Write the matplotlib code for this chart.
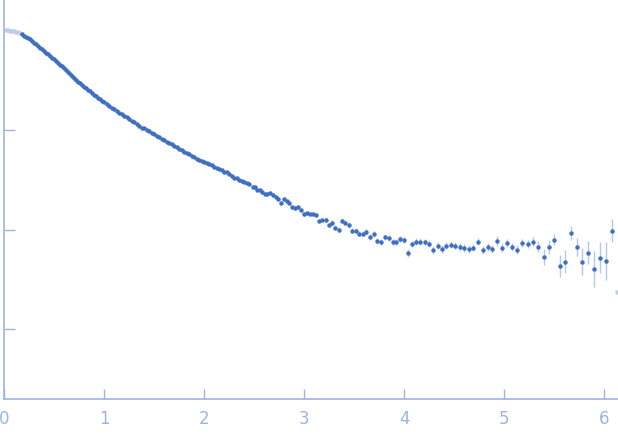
import numpy as np
import matplotlib
matplotlib.use("Agg")
import matplotlib.pyplot as plt

# ── data (q, intensity, error in decades) ──
# excluded points at both ends, drawn pale
q_excl = [0.02, 0.04, 0.06, 0.08, 0.10, 0.12, 0.14, 0.16, 6.133]
I_excl = [1.000, 0.995, 0.989, 0.979, 0.971, 0.959, 0.948, 0.938, 0.00238]

# low q, dense
q_low = [0.18, 0.20, 0.22, 0.24, 0.26, 0.28, 0.30, 0.32, 0.34, 0.36,
         0.38, 0.40, 0.42, 0.44, 0.46, 0.48, 0.50, 0.52, 0.54, 0.56,
         0.58, 0.60, 0.62, 0.64, 0.66, 0.68, 0.70, 0.72, 0.74, 0.76,
         0.78, 0.80, 0.82, 0.84, 0.86, 0.88, 0.90, 0.92, 0.94, 0.96,
         0.98, 1.00]
I_low = [0.906, 0.879, 0.853, 0.828, 0.804, 0.774, 0.746, 0.719, 0.694, 0.668,
         0.643, 0.618, 0.594, 0.571, 0.550, 0.528, 0.508, 0.489, 0.469, 0.450,
         0.432, 0.414, 0.397, 0.380, 0.363, 0.347, 0.331, 0.316, 0.303, 0.292,
         0.281, 0.271, 0.261, 0.251, 0.242, 0.233, 0.224, 0.216, 0.209, 0.202,
         0.195, 0.188]

# mid q
q_mid = [1.025, 1.05, 1.075, 1.10, 1.125, 1.15, 1.175, 1.20, 1.225, 1.25,
         1.275, 1.30, 1.325, 1.35, 1.375, 1.40, 1.425, 1.45, 1.475, 1.50,
         1.525, 1.55, 1.575, 1.60, 1.625, 1.65, 1.675, 1.70, 1.725, 1.75,
         1.775, 1.80, 1.825, 1.85, 1.875, 1.90, 1.925, 1.95, 1.975, 2.00,
         2.025, 2.05, 2.075, 2.10, 2.125, 2.15, 2.175, 2.20, 2.225, 2.25,
         2.275, 2.30, 2.325, 2.35, 2.375, 2.40, 2.425, 2.45]
I_mid = [0.180, 0.173, 0.167, 0.160, 0.154, 0.149, 0.143, 0.138, 0.133, 0.128,
         0.123, 0.119, 0.114, 0.110, 0.104, 0.103, 0.0995, 0.0975, 0.0929, 0.0899,
         0.0869, 0.0841, 0.0815, 0.0789, 0.0762, 0.0738, 0.0725, 0.0689, 0.0665, 0.0644,
         0.0624, 0.0604, 0.0585, 0.0566, 0.0548, 0.0531, 0.0515, 0.0495, 0.0488, 0.0475,
         0.0463, 0.0451, 0.0439, 0.0427, 0.0414, 0.0403, 0.0392, 0.0380, 0.0373, 0.0357,
         0.0346, 0.0330, 0.0325, 0.0315, 0.0306, 0.0298, 0.0290, 0.0283]

# high q, sparser
q_high = [2.487, 2.513, 2.533, 2.560, 2.583, 2.610, 2.633, 2.660, 2.690, 2.720,
          2.743, 2.770, 2.803, 2.830, 2.853, 2.883, 2.913, 2.943, 2.970, 3.003,
          3.033, 3.063, 3.093, 3.123, 3.153, 3.183, 3.223, 3.253, 3.283, 3.313,
          3.353, 3.383, 3.413, 3.453, 3.483, 3.523, 3.553, 3.593, 3.623, 3.663,
          3.703, 3.733, 3.773, 3.813, 3.853, 3.893, 3.923]
I_high = [0.0267, 0.0266, 0.0251, 0.0251, 0.0238, 0.0229, 0.0229, 0.0234, 0.0224, 0.0214,
          0.0203, 0.0185, 0.0203, 0.0191, 0.0185, 0.0169, 0.0165, 0.0169, 0.0157, 0.0144,
          0.0147, 0.0144, 0.0144, 0.0140, 0.0122, 0.0125, 0.0125, 0.0111, 0.0117, 0.0104,
          0.00993, 0.0122, 0.0117, 0.0111, 0.00971, 0.00971, 0.00906, 0.00906, 0.00949, 0.00845,
          0.00906, 0.00771, 0.00753, 0.00845, 0.00826, 0.00753, 0.00753]

# tail
q_tail = [3.960, 4.003, 4.043, 4.083, 4.123, 4.163, 4.213, 4.253, 4.293, 4.343,
          4.383, 4.423, 4.473, 4.513, 4.563, 4.603, 4.653, 4.693, 4.743, 4.793,
          4.843, 4.883, 4.933, 4.983, 5.033, 5.083, 5.133, 5.183, 5.243, 5.293,
          5.343, 5.403, 5.453, 5.503, 5.563, 5.613, 5.673, 5.733, 5.783, 5.843,
          5.903, 5.963, 6.023, 6.083]
I_tail = [0.00807, 0.00788, 0.00585, 0.00724, 0.00753, 0.00753, 0.00753, 0.00719, 0.00627, 0.00687,
          0.00641, 0.00687, 0.00703, 0.00687, 0.00671, 0.00656, 0.00641, 0.00656, 0.00753, 0.00627,
          0.00671, 0.00641, 0.00771, 0.00656, 0.00736, 0.00671, 0.00627, 0.00736, 0.00719, 0.00753,
          0.00671, 0.00533, 0.00671, 0.00788, 0.00434, 0.00475, 0.00927, 0.00671, 0.00475, 0.00585,
          0.00405, 0.00521, 0.00486, 0.00971]

# half error bar length in decades
err_low = [0.004] * len(q_low)
err_mid = [0.006] * len(q_mid)
err_high = [0.015, 0.015, 0.015, 0.016, 0.016, 0.017, 0.017, 0.017, 0.018, 0.018,
            0.018, 0.019, 0.019, 0.019, 0.020, 0.020, 0.020, 0.021, 0.021, 0.021,
            0.022, 0.022, 0.022, 0.023, 0.023, 0.023, 0.024, 0.024, 0.024, 0.025,
            0.025, 0.025, 0.026, 0.026, 0.026, 0.027, 0.027, 0.027, 0.028, 0.028,
            0.028, 0.029, 0.029, 0.030, 0.030, 0.030, 0.030]
err_tail = [0.030, 0.030, 0.040, 0.030, 0.035, 0.035, 0.030, 0.035, 0.040, 0.035,
            0.040, 0.035, 0.035, 0.035, 0.040, 0.040, 0.040, 0.035, 0.035, 0.040,
            0.040, 0.040, 0.050, 0.045, 0.040, 0.040, 0.045, 0.040, 0.040, 0.045,
            0.055, 0.080, 0.070, 0.055, 0.110, 0.115, 0.070, 0.090, 0.135, 0.115,
            0.180, 0.155, 0.190, 0.115]

DOT = "#3f6fc1"
BAR = "#b3c8ea"
PALE = "#bccdea"
AXIS = "#9fb4e2"

q = np.array(q_low + q_mid + q_high + q_tail)
I = np.array(I_low + I_mid + I_high + I_tail)
e = np.array(err_low + err_mid + err_high + err_tail)
lo = I * (1 - 10 ** -e)
hi = I * (10 ** e - 1)

fig = plt.figure(figsize=(6.18, 4.37), dpi=100)
ax = fig.add_axes([4 / 618, 38 / 437, 614 / 618, 399 / 437])

ax.errorbar(q, I, yerr=[lo, hi], fmt="none", ecolor=BAR, elinewidth=1.0, zorder=1)
ax.plot(q, I, "o", ms=3.2, color=DOT, mec="none", zorder=3)
ax.plot(q_excl, I_excl, "o", ms=3.2, color=PALE, mec="none", zorder=2)

ax.set_yscale("log")
ax.set_ylim(2e-4, 2.0)
ax.set_xlim(0, 6.14)
ax.set_xticks([0, 1, 2, 3, 4, 5, 6])
ax.set_yticks([1, 0.1, 0.01, 0.001])
ax.yaxis.set_minor_locator(matplotlib.ticker.NullLocator())
ax.set_yticklabels([])

for s in ["top", "right"]:
    ax.spines[s].set_visible(False)
for s in ["left", "bottom"]:
    ax.spines[s].set_color(AXIS)
    ax.spines[s].set_linewidth(1.2)
ax.tick_params(direction="in", length=7, width=1, colors=AXIS,
               labelsize=12, pad=8)
ax.tick_params(axis="y", length=8)

fig.savefig("out.png", dpi=100)
